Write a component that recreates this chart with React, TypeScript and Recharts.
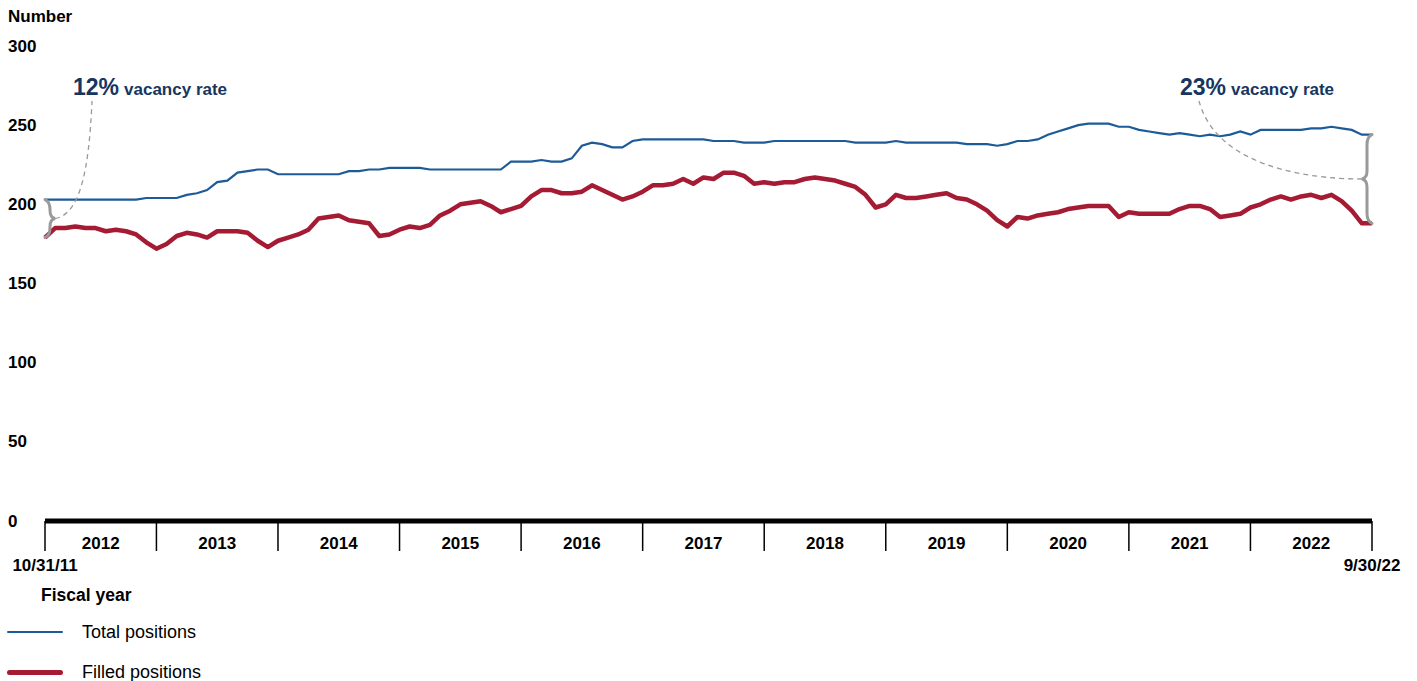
import React from "react";
import { LineChart, Line, XAxis, YAxis, ReferenceLine, ReferenceArea } from "recharts";

// fiscal years along the bottom and the month index where each one ends
const fiscalYears = ["2012", "2013", "2014", "2015", "2016", "2017", "2018", "2019", "2020", "2021", "2022"];
const yearEnds = [0, 11, 23, 35, 47, 59, 71, 83, 95, 107, 119, 131];
const startDate = "10/31/11";
const endDate = "9/30/22";
const yTicks = [0, 50, 100, 150, 200, 250, 300];

// month-end counts, 10/31/11 .. 9/30/22
const totalPositions = [
  203, 203, 203, 203, 203, 203, 203, 203, 203, 203, 204, 204,
  204, 204, 206, 207, 209, 214, 215, 220, 221, 222, 222, 219,
  219, 219, 219, 219, 219, 219, 221, 221, 222, 222, 223, 223,
  223, 223, 222, 222, 222, 222, 222, 222, 222, 222, 227, 227,
  227, 228, 227, 227, 229, 237, 239, 238, 236, 236, 240, 241,
  241, 241, 241, 241, 241, 241, 240, 240, 240, 239, 239, 239,
  240, 240, 240, 240, 240, 240, 240, 240, 239, 239, 239, 239,
  240, 239, 239, 239, 239, 239, 239, 238, 238, 238, 237, 238,
  240, 240, 241, 244, 246, 248, 250, 251, 251, 251, 249, 249,
  247, 246, 245, 244, 245, 244, 243, 244, 243, 244, 246, 244,
  247, 247, 247, 247, 247, 248, 248, 249, 248, 247, 244, 244,
];

const filledPositions = [
  179, 185, 185, 186, 185, 185, 183, 184, 183, 181, 176, 172,
  175, 180, 182, 181, 179, 183, 183, 183, 182, 177, 173, 177,
  179, 181, 184, 191, 192, 193, 190, 189, 188, 180, 181, 184,
  186, 185, 187, 193, 196, 200, 201, 202, 199, 195, 197, 199,
  205, 209, 209, 207, 207, 208, 212, 209, 206, 203, 205, 208,
  212, 212, 213, 216, 213, 217, 216, 220, 220, 218, 213, 214,
  213, 214, 214, 216, 217, 216, 215, 213, 211, 206, 198, 200,
  206, 204, 204, 205, 206, 207, 204, 203, 200, 196, 190, 186,
  192, 191, 193, 194, 195, 197, 198, 199, 199, 199, 192, 195,
  194, 194, 194, 194, 197, 199, 199, 197, 192, 193, 194, 198,
  200, 203, 205, 203, 205, 206, 204, 206, 202, 196, 188, 188,
];

const BLUE = "#1d5b98";
const RED = "#a51b34";
const NAVY = "#16365f";
const GRAY = "#9a9a9a";
const FONT = '"Liberation Sans", Arial, Helvetica, sans-serif';

const data = totalPositions.map((total, idx) => ({ idx, total, filled: filledPositions[idx] }));
const lastIdx = data.length - 1;

const pct = (i: number) => Math.round((1 - filledPositions[i] / totalPositions[i]) * 100) + "%";

const leftNote = { x: 73, y: 95 };
const rightNote = { x: 1180, y: 95 };

function YTick({ y, payload }: any) {
  return (
    <text x={8} y={y} dominantBaseline="central" fontFamily={FONT} fontSize={17} fontWeight="bold" fill="#000">
      {payload.value}
    </text>
  );
}

function DateTick({ x, y, payload }: any) {
  const label = payload.value === 0 ? startDate : payload.value === lastIdx ? endDate : "";
  return (
    <text x={x} y={y} dy={14} textAnchor="middle" dominantBaseline="central" fontFamily={FONT} fontSize={17} fontWeight="bold" fill="#000">
      {label}
    </text>
  );
}

function YearLabel({ viewBox, year }: any) {
  return (
    <text x={viewBox.x + viewBox.width / 2} y={viewBox.y + 22} textAnchor="middle" dominantBaseline="central" fontFamily={FONT} fontSize={17} fontWeight="bold" fill="#000">
      {year}
    </text>
  );
}

function NoteText({ x, y, value }: { x: number; y: number; value: string }) {
  return (
    <text x={x} y={y} fill={NAVY} fontFamily={FONT} fontWeight="bold">
      <tspan fontSize={23}>{value}</tspan>
      <tspan fontSize={17} dx={5}>vacancy rate</tspan>
    </text>
  );
}

// curly brace between the two lines, tip pointing in dir
function bracePath(x: number, top: number, bot: number, dir: number) {
  const mid = (top + bot) / 2;
  const bx = x + 5 * dir;
  const tip = x + 10 * dir;
  return (
    `M${x},${top} Q${bx},${top + 2} ${bx},${top + 10} L${bx},${mid - 8} ` +
    `Q${bx},${mid - 1} ${tip},${mid} Q${bx},${mid + 1} ${bx},${mid + 8} ` +
    `L${bx},${bot - 10} Q${bx},${bot - 2} ${x},${bot}`
  );
}

const LeftBrace = ({ x1, y1, y2 }: any) => {
  const top = Math.min(y1, y2);
  const bot = Math.max(y1, y2);
  const mid = (top + bot) / 2;
  const tip = x1 + 10;
  const ex = leftNote.x + 19;
  const ey = leftNote.y + 6;
  return (
    <g>
      <path d={bracePath(x1, top, bot, 1)} fill="none" stroke={GRAY} strokeWidth={3} strokeLinecap="round" />
      <path d={`M${tip},${mid} C${tip + 25},${mid - 4} ${ex - 3},${mid - 48} ${ex},${ey}`} fill="none" stroke={GRAY} strokeWidth={1.3} strokeDasharray="5 4" />
      <NoteText x={leftNote.x} y={leftNote.y} value={pct(0)} />
    </g>
  );
};

const RightBrace = ({ x1, y1, y2 }: any) => {
  const top = Math.min(y1, y2);
  const bot = Math.max(y1, y2);
  const mid = (top + bot) / 2;
  const tip = x1 - 10;
  const ex = rightNote.x + 19;
  const ey = rightNote.y + 6;
  return (
    <g>
      <path d={bracePath(x1, top, bot, -1)} fill="none" stroke={GRAY} strokeWidth={3} strokeLinecap="round" />
      <path d={`M${tip},${mid} C${tip - 61},${mid} ${ex + 17},${mid - 15} ${ex},${ey}`} fill="none" stroke={GRAY} strokeWidth={1.3} strokeDasharray="5 4" />
      <NoteText x={rightNote.x} y={rightNote.y} value={pct(lastIdx)} />
    </g>
  );
};

const legendItems = [
  { name: "Total positions", color: BLUE, width: 2, top: 632 },
  { name: "Filled positions", color: RED, width: 5, top: 672 },
];

export default function App() {
  return (
    <div style={{ position: "absolute", left: 0, top: 0, width: 1417, height: 681, fontFamily: FONT, background: "#fff" }}>
      <div style={{ position: "absolute", left: 8, top: 7, fontSize: 17, fontWeight: "bold", lineHeight: "20px" }}>Number</div>
      <LineChart width={1417} height={681} data={data} margin={{ top: 46, right: 45, bottom: 130, left: 0 }}>
        <YAxis
          width={45}
          type="number"
          domain={[0, 300]}
          ticks={yTicks}
          interval={0}
          axisLine={false}
          tickLine={false}
          tick={<YTick />}
        />
        <XAxis
          dataKey="idx"
          type="number"
          domain={[0, lastIdx]}
          ticks={yearEnds}
          interval={0}
          height={30}
          tickSize={30}
          tickMargin={0}
          axisLine={{ stroke: "#000", strokeWidth: 5 }}
          tickLine={{ stroke: "#000", strokeWidth: 1.5 }}
          tick={<DateTick />}
        />
        {fiscalYears.map((year, k) => (
          <ReferenceArea
            key={year}
            x1={yearEnds[k]}
            x2={yearEnds[k + 1]}
            y1={-19}
            y2={0}
            ifOverflow="visible"
            fill="none"
            stroke="none"
            label={<YearLabel year={year} />}
          />
        ))}
        <Line type="linear" dataKey="total" stroke={BLUE} strokeWidth={2.2} dot={false} activeDot={false} isAnimationActive={false} />
        <Line type="linear" dataKey="filled" stroke={RED} strokeWidth={4.5} strokeLinejoin="round" dot={false} activeDot={false} isAnimationActive={false} />
        <ReferenceLine
          segment={[{ x: 0, y: totalPositions[0] }, { x: 0, y: filledPositions[0] }]}
          ifOverflow="visible"
          shape={LeftBrace}
        />
        <ReferenceLine
          segment={[{ x: lastIdx, y: totalPositions[lastIdx] }, { x: lastIdx, y: filledPositions[lastIdx] }]}
          ifOverflow="visible"
          shape={RightBrace}
        />
      </LineChart>
      <div style={{ position: "absolute", left: 41, top: 585, fontSize: 17.5, fontWeight: "bold", lineHeight: "20px" }}>Fiscal year</div>
      {legendItems.map((item) => (
        <div key={item.name}>
          <div
            style={{
              position: "absolute",
              left: 7,
              top: item.top - item.width / 2,
              width: 56,
              height: item.width,
              background: item.color,
              borderRadius: item.width / 2,
            }}
          />
          <div style={{ position: "absolute", left: 82, top: item.top - 11, fontSize: 18, lineHeight: "22px" }}>{item.name}</div>
        </div>
      ))}
    </div>
  );
}
